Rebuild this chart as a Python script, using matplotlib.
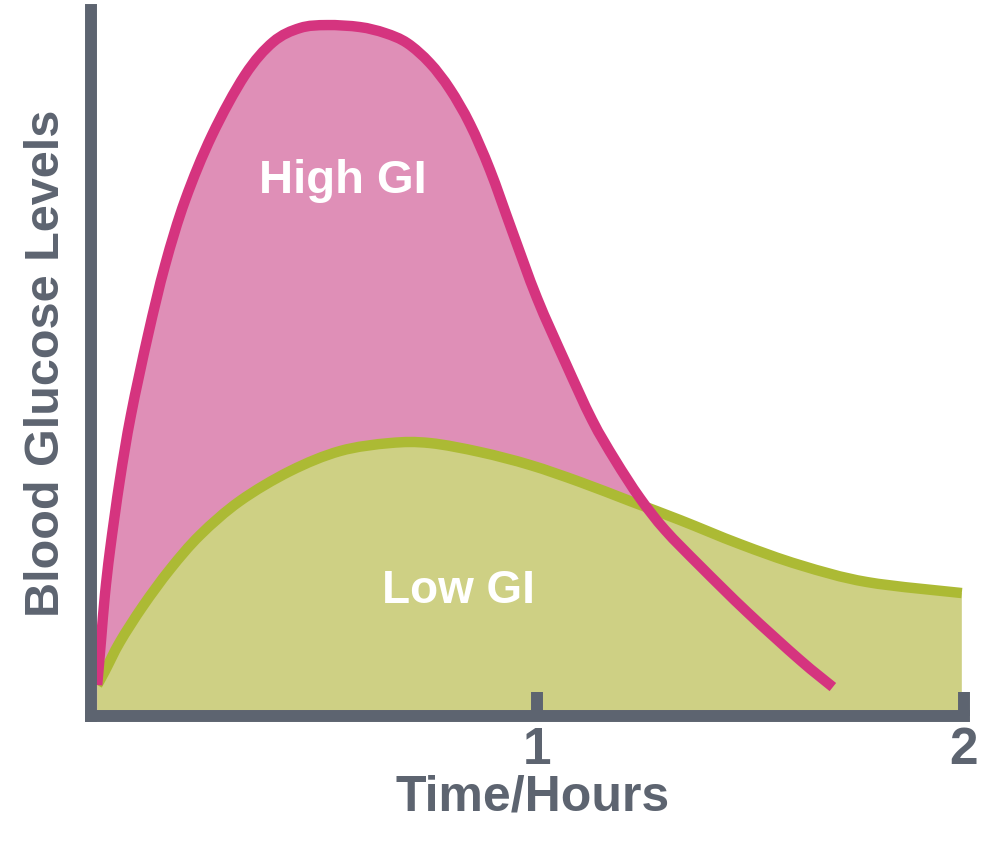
import numpy as np
import matplotlib
matplotlib.use("Agg")
import matplotlib.pyplot as plt
from matplotlib.path import Path
from matplotlib.patches import PathPatch

plt.rcParams['font.family'] = ['Liberation Sans', 'DejaVu Sans']

# time (hours) and blood glucose level (arbitrary units)
high_t = [-0.030, -0.021, -0.012, 0.000, 0.023, 0.049, 0.089, 0.129, 0.176, 0.239,
          0.316, 0.382, 0.445, 0.508, 0.585, 0.644, 0.696, 0.749, 0.796, 0.843,
          0.890, 0.941, 1.000, 1.066, 1.129, 1.183, 1.241, 1.300, 1.382, 1.492,
          1.616, 1.693]
high_level = [4.43, 10.86, 17.29, 23.71, 33.71, 43.0, 54.43, 64.43, 73.71, 83.0,
              91.57, 96.29, 98.29, 98.71, 98.43, 97.57, 96.14, 93.29, 89.57, 84.57,
              78.0, 69.43, 59.71, 50.57, 42.29, 36.57, 31.14, 26.57, 21.43, 14.86,
              8.0, 4.14]

low_t = [-0.030, -0.012, 0.023, 0.077, 0.141, 0.211, 0.304, 0.422, 0.539, 0.656,
         0.749, 0.867, 0.984, 1.101, 1.218, 1.335, 1.475, 1.616, 1.773, 1.995]
low_level = [4.43, 6.43, 10.57, 15.71, 21.0, 25.86, 30.71, 35.0, 37.86, 39.0,
             39.0, 37.71, 35.86, 33.43, 30.71, 28.0, 24.57, 21.57, 19.14, 17.57]

tick_pos = [1, 2]
tick_labels = ['1', '2']

pink_line = '#d5347f'
pink_fill = '#df8fb7'
green_line = '#acba34'
green_fill = '#ced084'
grey = '#5d6470'


def smooth_path(xs, ys, closed=False):
    # smooth bezier path running through the read points
    pts = np.column_stack([xs, ys])
    n = len(pts)
    verts = [pts[0]]
    codes = [Path.MOVETO]
    for i in range(n - 1):
        p0 = pts[max(i - 1, 0)]
        p1 = pts[i]
        p2 = pts[i + 1]
        p3 = pts[min(i + 2, n - 1)]
        verts += [p1 + (p2 - p0) / 6, p2 - (p3 - p1) / 6, p2]
        codes += [Path.CURVE4] * 3
    if closed:
        verts += [(xs[-1], 0), (xs[0], 0), (xs[0], ys[0])]
        codes += [Path.LINETO, Path.LINETO, Path.CLOSEPOLY]
    return Path(verts, codes)


fig = plt.figure(figsize=(10.08, 8.42), dpi=100)
ax = fig.add_axes([0.0903, 0.1496, 0.8660, 0.8385])

ax.add_patch(PathPatch(smooth_path(high_t, high_level, True), fc=pink_fill,
                       ec='none', zorder=1))
ax.add_patch(PathPatch(smooth_path(low_t, low_level, True), fc=green_fill,
                       ec='none', zorder=2))
ax.add_patch(PathPatch(smooth_path(low_t, low_level), fill=False, ec=green_line,
                       lw=7.5, capstyle='butt', zorder=3))
ax.add_patch(PathPatch(smooth_path(high_t, high_level), fill=False, ec=pink_line,
                       lw=7.5, capstyle='butt', zorder=4))

ax.text(0.545, 76.5, 'High GI', color='white', fontsize=34, fontweight='bold',
        ha='center', va='center', zorder=5)
ax.text(0.815, 17.8, 'Low GI', color='white', fontsize=33, fontweight='bold',
        ha='center', va='center', zorder=5)

ax.set_xlim(-0.0445, 2.0)
ax.set_ylim(0, 100.86)

for side in ['top', 'right']:
    ax.spines[side].set_visible(False)
ax.spines['left'].set_color(grey)
ax.spines['left'].set_linewidth(8.6)
ax.spines['bottom'].set_color(grey)
ax.spines['bottom'].set_linewidth(8.6)
ax.spines['bottom'].set_capstyle('projecting')
ax.spines['left'].set_zorder(6)
ax.spines['bottom'].set_zorder(6)

ax.set_xticks(tick_pos)
ax.set_xticklabels(tick_labels)
ax.set_yticks([])
ax.tick_params(axis='x', direction='in', length=17.3, width=8.6, color=grey,
               labelcolor=grey, labelsize=37, pad=7)
for lbl in ax.get_xticklabels():
    lbl.set_fontweight('bold')
ax.xaxis.set_zorder(6)

ax.set_xlabel('Time/Hours', fontsize=36, fontweight='bold', color=grey, labelpad=0)
ax.xaxis.label.set_x(0.506)
ax.set_ylabel('Blood Glucose Levels', fontsize=35, fontweight='bold', color=grey,
              labelpad=16)
ax.set_facecolor('white')

fig.savefig('out.png', dpi=100)
